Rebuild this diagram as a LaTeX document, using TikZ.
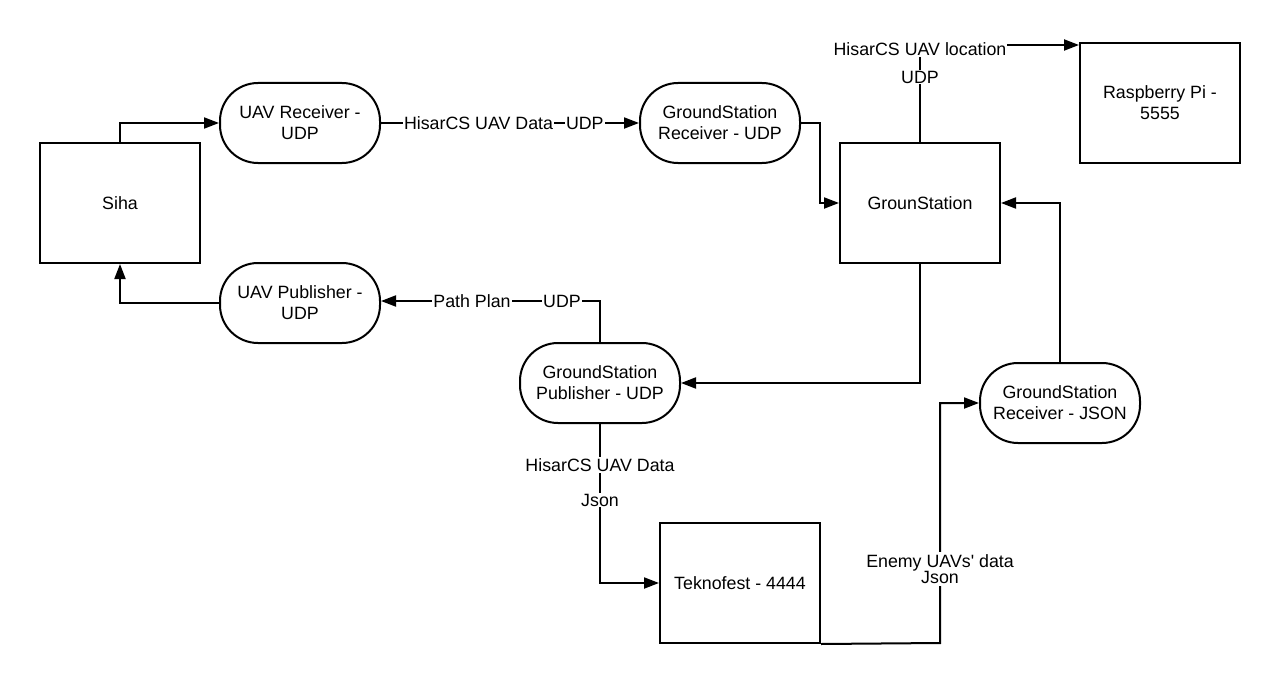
\documentclass[tikz,border=0pt]{standalone}
\usepackage{fontspec}
\setmainfont{Liberation Sans}
\usetikzlibrary{arrows.meta}
\begin{document}
\begin{tikzpicture}[x=1pt,y=-1pt,
  every node/.style={font=\fontsize{17.8}{21}\selectfont},
  boxnode/.style={draw, line width=2pt, minimum width=160pt, minimum height=120pt, align=center, inner sep=0pt},
  pillnode/.style={draw, line width=2pt, rounded corners=38pt, minimum width=160pt, minimum height=80pt, align=center, inner sep=0pt},
  conn/.style={line width=2pt, -{Triangle[length=15pt,width=11pt]}},
  lbl/.style={fill=white, inner sep=1pt, align=center}]
\useasboundingbox (0,0) rectangle (1280,685);
\fill[white] (0,0) rectangle (1280,685);

\node[boxnode] (siha) at (120,203) {Siha};
\node[pillnode] (uavrx) at (300,123) {UAV Receiver -\\UDP};
\node[pillnode] (gsrx) at (720,123) {GroundStation\\Receiver - UDP};
\node[boxnode] (gs) at (920,203) {GrounStation};
\node[boxnode] (rpi) at (1160,103) {Raspberry Pi -\\5555};
\node[pillnode] (uavpub) at (300,303) {UAV Publisher -\\UDP};
\node[pillnode] (gspub) at (600,383) {GroundStation\\Publisher - UDP};
\node[pillnode] (gsjson) at (1060,403) {GroundStation\\Receiver - JSON};
\node[boxnode] (tekno) at (740,583) {Teknofest - 4444};

\coordinate (c1) at (120,123);
\coordinate (c3a) at (820,123);
\coordinate (c3b) at (820,203);
\coordinate (c4) at (920,45);
\coordinate (c5) at (920,383);
\coordinate (c6) at (600,301);
\coordinate (c7) at (120,303);
\coordinate (c8) at (600,583);
\coordinate (c9a) at (940,643);
\coordinate (c9b) at (940,403);
\coordinate (c10) at (1060,203);

% Siha -> UAV Receiver
\draw[conn] (siha.north) -- (c1) -- (uavrx.west);
% UAV Receiver -> GS Receiver
\draw[conn] (uavrx.east) -- (gsrx.west)
  node[lbl, pos=0.378] (l1) {HisarCS UAV Data}
  node[lbl, pos=0.79] (l2) {UDP};
% GS Receiver -> GrounStation
\draw[conn] (gsrx.east) -- (c3a) -- (c3b) -- (gs.west);
% GrounStation -> Raspberry
\draw[conn] (gs.north) -- (c4) -- (rpi.west |- c4);
\node[lbl] (l3) at (920,49) {HisarCS UAV location};
\node[lbl] (l4) at (920,77) {UDP};
% GrounStation -> GS Publisher
\draw[conn] (gs.south) -- (c5) -- (gspub.east);
% GS Publisher -> UAV Publisher
\draw[conn] (gspub.north) -- (c6) -- (uavpub.east |- c6);
\node[lbl] (l5) at (472,301) {Path Plan};
\node[lbl] (l6) at (562,301) {UDP};
% UAV Publisher -> Siha
\draw[conn] (uavpub.west) -- (c7) -- (siha.south);
% GS Publisher -> Teknofest
\draw[conn] (gspub.south) -- (c8) -- (tekno.west);
\node[lbl] (l7) at (600,465) {HisarCS UAV Data};
\node[lbl] (l8) at (600,500) {Json};
% Teknofest -> GS Receiver JSON
\draw[conn] (tekno.south east) -- (c9a) -- (c9b) -- (gsjson.west);
\node[lbl, inner sep=2pt] (l9) at (940,569) {Enemy UAVs\textquotesingle\ data\\[-5pt]Json};
% GS Receiver JSON -> GrounStation
\draw[conn] (gsjson.north) -- (c10) -- (gs.east);
\end{tikzpicture}
\end{document}
